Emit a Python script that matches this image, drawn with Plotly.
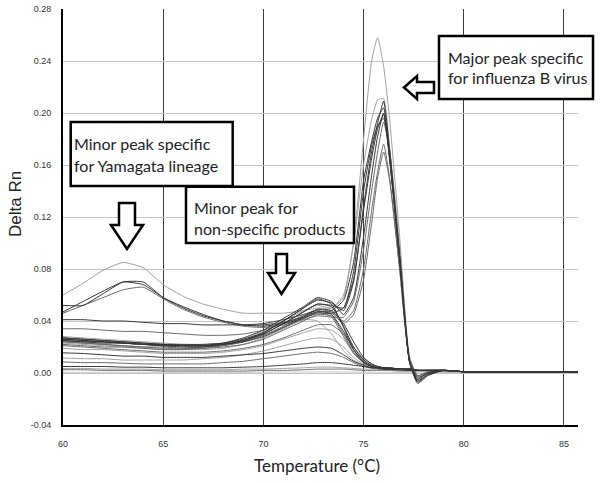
import plotly.graph_objects as go

# ---------------- data ----------------
temps = [60, 61, 62, 63, 64, 65, 66, 67, 68, 69, 70, 71, 72, 72.7, 73.4, 74.0, 74.5, 75.0,
         75.4, 75.7, 76.0, 76.3, 76.8, 77.3, 77.7, 78.2, 79, 80, 82, 85.7]

x_ticks = [60, 65, 70, 75, 80, 85]
y_ticks = [-0.04, 0.00, 0.04, 0.08, 0.12, 0.16, 0.20, 0.24, 0.28]

# samples with Yamagata minor peak + major peak
yam_1 = [0.060, 0.069, 0.079, 0.085, 0.081, 0.068, 0.059, 0.053, 0.049, 0.046, 0.046, 0.046, 0.048, 0.050, 0.050,
         0.058, 0.100, 0.180, 0.240, 0.258, 0.236, 0.195, 0.105, 0.010, -0.003, 0.001, 0.002, 0.001, 0.001, 0.001]
yam_2 = [0.052, 0.052, 0.061, 0.070, 0.070, 0.058, 0.051, 0.045, 0.040, 0.037, 0.037, 0.039, 0.043, 0.047, 0.048,
         0.056, 0.085, 0.148, 0.178, 0.196, 0.204, 0.165, 0.088, 0.008, -0.007, -0.001, 0.002, 0.001, 0.001, 0.001]
yam_3 = [0.047, 0.055, 0.063, 0.070, 0.068, 0.058, 0.050, 0.044, 0.040, 0.037, 0.036, 0.038, 0.042, 0.046, 0.046,
         0.050, 0.072, 0.125, 0.165, 0.188, 0.199, 0.166, 0.090, 0.009, -0.004, 0.000, 0.002, 0.001, 0.001, 0.001]
yam_4 = [0.046, 0.052, 0.058, 0.064, 0.066, 0.057, 0.049, 0.043, 0.039, 0.036, 0.035, 0.037, 0.041, 0.044, 0.043,
         0.043, 0.055, 0.095, 0.140, 0.170, 0.193, 0.172, 0.095, 0.012, -0.002, 0.001, 0.002, 0.001, 0.001, 0.001]

# samples with major influenza B peak
maj_1 = [0.028, 0.027, 0.026, 0.025, 0.024, 0.023, 0.022, 0.022, 0.023, 0.026, 0.032, 0.040, 0.048, 0.052, 0.050,
         0.060, 0.100, 0.160, 0.195, 0.210, 0.211, 0.172, 0.090, 0.009, -0.006, -0.002, 0.002, 0.001, 0.001, 0.001]
maj_2 = [0.027, 0.026, 0.025, 0.024, 0.023, 0.022, 0.021, 0.021, 0.022, 0.025, 0.031, 0.040, 0.050, 0.056, 0.054,
         0.048, 0.070, 0.128, 0.170, 0.192, 0.209, 0.172, 0.089, 0.008, -0.008, -0.002, 0.002, 0.001, 0.001, 0.001]
maj_3 = [0.026, 0.025, 0.024, 0.023, 0.022, 0.021, 0.021, 0.021, 0.023, 0.027, 0.033, 0.042, 0.051, 0.058, 0.055,
         0.045, 0.058, 0.105, 0.152, 0.182, 0.200, 0.166, 0.087, 0.008, -0.005, 0.000, 0.002, 0.001, 0.001, 0.001]
maj_4 = [0.024, 0.023, 0.022, 0.021, 0.020, 0.019, 0.019, 0.020, 0.021, 0.024, 0.029, 0.036, 0.044, 0.049, 0.047,
         0.040, 0.048, 0.080, 0.125, 0.155, 0.176, 0.150, 0.080, 0.009, -0.003, 0.000, 0.002, 0.001, 0.001, 0.001]
maj_5 = [0.022, 0.021, 0.020, 0.020, 0.019, 0.018, 0.018, 0.019, 0.021, 0.024, 0.029, 0.035, 0.042, 0.047, 0.046,
         0.038, 0.045, 0.072, 0.115, 0.150, 0.170, 0.148, 0.080, 0.009, -0.002, 0.000, 0.002, 0.001, 0.001, 0.001]
maj_6 = [0.025, 0.024, 0.023, 0.023, 0.022, 0.021, 0.020, 0.020, 0.022, 0.025, 0.030, 0.038, 0.047, 0.053, 0.052,
         0.050, 0.078, 0.140, 0.175, 0.190, 0.196, 0.164, 0.086, 0.008, -0.006, -0.001, 0.002, 0.001, 0.001, 0.001]

# samples with only the non-specific product bump / baseline
non_1 = [0.041, 0.041, 0.040, 0.040, 0.039, 0.038, 0.038, 0.037, 0.037, 0.037, 0.038, 0.041, 0.045, 0.048, 0.045,
         0.032, 0.018, 0.009, 0.005, 0.004, 0.003, 0.003, 0.003, 0.002, 0.002, 0.002, 0.002, 0.001, 0.001, 0.001]
non_2 = [0.034, 0.034, 0.033, 0.032, 0.032, 0.031, 0.030, 0.029, 0.029, 0.030, 0.033, 0.038, 0.044, 0.047, 0.043,
         0.028, 0.015, 0.008, 0.005, 0.004, 0.004, 0.003, 0.003, 0.002, 0.002, 0.002, 0.002, 0.001, 0.001, 0.001]
non_3 = [0.027, 0.026, 0.025, 0.024, 0.023, 0.022, 0.022, 0.022, 0.023, 0.026, 0.031, 0.040, 0.050, 0.057, 0.053,
         0.035, 0.018, 0.008, 0.005, 0.004, 0.004, 0.003, 0.003, 0.003, 0.002, 0.002, 0.002, 0.001, 0.001, 0.001]
non_4 = [0.026, 0.025, 0.024, 0.023, 0.022, 0.021, 0.021, 0.021, 0.022, 0.025, 0.030, 0.038, 0.047, 0.053, 0.051,
         0.036, 0.020, 0.010, 0.006, 0.005, 0.004, 0.004, 0.003, 0.003, 0.002, 0.002, 0.002, 0.001, 0.001, 0.001]
non_5 = [0.025, 0.024, 0.024, 0.023, 0.022, 0.022, 0.021, 0.021, 0.022, 0.024, 0.028, 0.035, 0.043, 0.049, 0.048,
         0.038, 0.024, 0.012, 0.007, 0.005, 0.004, 0.004, 0.003, 0.003, 0.002, 0.002, 0.002, 0.001, 0.001, 0.001]
non_6 = [0.024, 0.023, 0.022, 0.021, 0.020, 0.020, 0.019, 0.019, 0.020, 0.022, 0.026, 0.033, 0.040, 0.045, 0.044,
         0.030, 0.016, 0.008, 0.005, 0.004, 0.004, 0.003, 0.003, 0.003, 0.002, 0.002, 0.002, 0.001, 0.001, 0.001]
non_7 = [0.023, 0.022, 0.021, 0.020, 0.019, 0.018, 0.018, 0.018, 0.019, 0.022, 0.027, 0.034, 0.041, 0.040, 0.030,
         0.017, 0.010, 0.006, 0.004, 0.004, 0.003, 0.003, 0.003, 0.002, 0.002, 0.002, 0.002, 0.001, 0.001, 0.001]
non_8 = [0.021, 0.020, 0.019, 0.018, 0.017, 0.016, 0.016, 0.016, 0.017, 0.019, 0.022, 0.027, 0.033, 0.037, 0.037,
         0.030, 0.020, 0.011, 0.007, 0.005, 0.004, 0.004, 0.003, 0.003, 0.002, 0.002, 0.002, 0.001, 0.001, 0.001]
non_9 = [0.019, 0.018, 0.018, 0.017, 0.016, 0.015, 0.015, 0.015, 0.016, 0.018, 0.021, 0.026, 0.031, 0.034, 0.033,
         0.026, 0.016, 0.009, 0.006, 0.005, 0.004, 0.004, 0.003, 0.003, 0.002, 0.002, 0.002, 0.001, 0.001, 0.001]
non_10 = [0.0155, 0.015, 0.014, 0.013, 0.013, 0.012, 0.012, 0.012, 0.013, 0.014, 0.015, 0.017, 0.019, 0.020, 0.019,
          0.014, 0.009, 0.006, 0.004, 0.004, 0.003, 0.003, 0.003, 0.002, 0.002, 0.002, 0.002, 0.001, 0.001, 0.001]
non_11 = [0.0115, 0.011, 0.011, 0.010, 0.010, 0.010, 0.010, 0.011, 0.012, 0.014, 0.017, 0.021, 0.025, 0.027, 0.026,
          0.020, 0.012, 0.007, 0.005, 0.004, 0.004, 0.003, 0.003, 0.002, 0.002, 0.002, 0.002, 0.001, 0.001, 0.001]
non_12 = [0.0085, 0.008, 0.008, 0.0075, 0.007, 0.007, 0.007, 0.007, 0.008, 0.009, 0.011, 0.013, 0.015, 0.016, 0.015,
          0.012, 0.008, 0.005, 0.004, 0.003, 0.003, 0.003, 0.002, 0.002, 0.002, 0.002, 0.002, 0.001, 0.001, 0.001]
non_13 = [0.005, 0.005, 0.005, 0.0045, 0.0045, 0.004, 0.004, 0.004, 0.004, 0.0045, 0.005, 0.006, 0.007, 0.008, 0.008,
          0.007, 0.006, 0.005, 0.004, 0.004, 0.003, 0.003, 0.003, 0.002, 0.002, 0.002, 0.002, 0.001, 0.001, 0.001]
non_14 = [0.0035, 0.0035, 0.003, 0.003, 0.003, 0.0025, 0.0025, 0.0025, 0.0025, 0.003, 0.003, 0.0035, 0.004, 0.0045, 0.0045,
          0.004, 0.0035, 0.003, 0.003, 0.003, 0.0025, 0.0025, 0.002, 0.002, 0.002, 0.002, 0.0015, 0.001, 0.001, 0.001]
non_15 = [0.0025, 0.0025, 0.002, 0.002, 0.002, 0.0015, 0.0015, 0.0015, 0.0015, 0.0015, 0.002, 0.002, 0.0025, 0.003, 0.003,
          0.003, 0.0025, 0.002, 0.002, 0.002, 0.002, 0.002, 0.0015, 0.0015, 0.0015, 0.0015, 0.001, 0.001, 0.0008, 0.0008]
non_16 = [0.0005, 0.0005, 0.0005, 0.0005, 0.0005, 0.0005, 0.0005, 0.0005, 0.0005, 0.0005, 0.0006, 0.0007, 0.0008, 0.0008, 0.0008,
          0.0008, 0.0007, 0.0006, 0.0006, 0.0006, 0.0006, 0.0006, 0.0005, 0.0005, 0.0005, 0.0005, 0.0005, 0.0005, 0.0005, 0.0005]

LIGHT, MED, DARK = "#a0a0a0", "#6a6a6a", "#363636"
series = [
    (non_16, "#c8c8c8"), (non_14, LIGHT), (non_11, LIGHT), (non_9, LIGHT), (non_7, LIGHT),
    (yam_1, LIGHT), (maj_1, LIGHT),
    (non_15, MED), (non_12, MED), (non_8, MED), (non_6, MED), (non_2, MED),
    (yam_4, MED), (maj_4, MED), (maj_5, MED),
    (non_13, DARK), (non_10, DARK), (non_5, DARK), (non_4, DARK), (non_3, DARK), (non_1, DARK),
    (yam_2, DARK), (yam_3, DARK), (maj_2, DARK), (maj_3, DARK), (maj_6, DARK),
]

# ---------------- figure ----------------
W, H = 602, 483
ML, MR, MT, MB = 63, 24, 9, 58
PW, PH = W - ML - MR, H - MT - MB


def px(x):
    return (x - ML) / PW


def py(y):
    return (H - MB - y) / PH


fig = go.Figure()
for vals, col in series:
    fig.add_trace(go.Scatter(x=temps, y=vals, mode="lines",
                             line=dict(color=col, width=1.0, shape="spline", smoothing=0.5),
                             showlegend=False, hoverinfo="skip"))

TICKFONT = dict(family="Liberation Sans, Arial, sans-serif", size=9, color="#333333")

fig.update_xaxes(range=[60, 85.7], tickvals=x_ticks, ticktext=[str(v) for v in x_ticks],
                 showgrid=True, gridcolor="#3c3c3c", gridwidth=1,
                 showline=True, linecolor="black", linewidth=2, automargin=False,
                 ticks="", ticklabelstandoff=9, tickfont=TICKFONT, zeroline=False)
fig.update_yaxes(range=[-0.04, 0.28], tickvals=y_ticks, ticktext=[f"{v:.2f}" for v in y_ticks],
                 showgrid=True, gridcolor="#c4c4c4", gridwidth=1.2,
                 showline=True, linecolor="black", linewidth=2, automargin=False,
                 ticks="", ticklabelstandoff=8, tickfont=TICKFONT, zeroline=False)

shapes = []
BOX = dict(type="rect", xref="paper", yref="paper", line=dict(color="black", width=2.5),
           fillcolor="white", layer="above")
for (x0, y0, x1, y1) in [(70.7, 122, 232.7, 186), (186, 186.7, 354, 243), (439, 36, 593, 99)]:
    shapes.append(dict(BOX, x0=px(x0), x1=px(x1), y0=py(y1), y1=py(y0)))


def arrow_path(pts):
    return "M " + " L ".join(f"{px(a):.5f},{py(b):.5f}" for a, b in pts) + " Z"


arrows = [
    [(119, 203), (135, 203), (135, 225), (143, 225), (127, 249), (111, 225), (119, 225)],
    [(276, 254), (287, 254), (287, 273), (295, 273), (281.5, 294), (268, 273), (276, 273)],
    [(404, 87.5), (417, 76), (417, 82), (434, 82), (434, 93), (417, 93), (417, 99)],
]
for pts in arrows:
    shapes.append(dict(type="path", xref="paper", yref="paper", path=arrow_path(pts),
                       line=dict(color="black", width=2.5), fillcolor="white", layer="above"))

ANNFONT = dict(family="Lato, sans-serif", size=16, color="#222222")
annotations = []
for text, x, y in [("Minor peak specific", 72, 143), ("for Yamagata lineage", 72, 165),
                   ("Minor peak for", 192, 207), ("non-specific products", 192, 228),
                   ("Major peak specific", 446, 57), ("for influenza B virus", 446, 78)]:
    annotations.append(dict(text=text, x=px(x), y=py(y), xref="paper", yref="paper",
                            xanchor="left", yanchor="middle", showarrow=False, font=ANNFONT))

annotations.append(dict(text="Delta Rn", x=px(15), y=py(204), xref="paper", yref="paper",
                        textangle=-90, showarrow=False, xanchor="center", yanchor="middle",
                        font=dict(family="Liberation Sans, Arial, sans-serif", size=17, color="#222222")))
annotations.append(dict(text="Temperature (°C)", x=px(317), y=py(465), xref="paper", yref="paper",
                        showarrow=False, xanchor="center", yanchor="middle",
                        font=dict(family="Lato, sans-serif", size=17, color="#222222")))

fig.update_layout(width=W, height=H, margin=dict(l=ML, r=MR, t=MT, b=MB, autoexpand=False),
                  paper_bgcolor="white", plot_bgcolor="white",
                  shapes=shapes, annotations=annotations)

fig.write_html("out.html", config={"displayModeBar": False},
               post_script="document.body.style.margin='0';document.body.style.padding='0';"
                           "document.documentElement.style.overflow='hidden';")
